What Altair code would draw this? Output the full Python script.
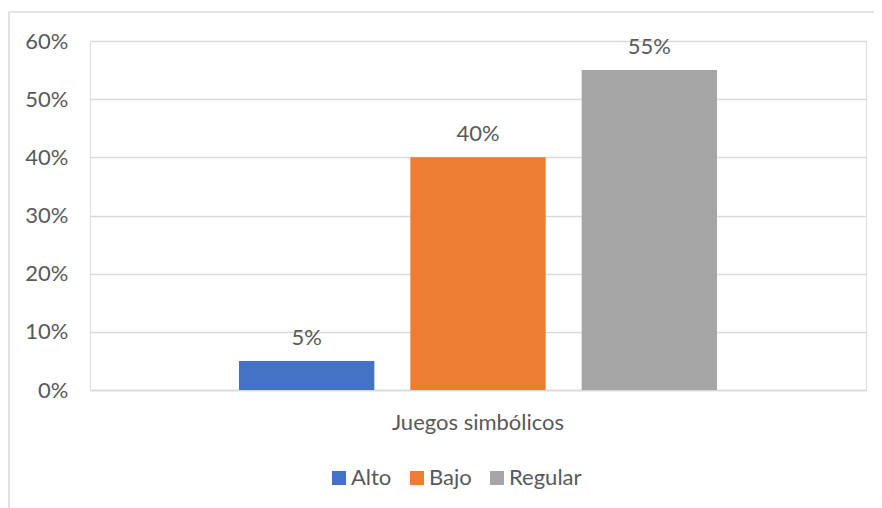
import altair as alt
import pandas as pd

categorias = ["Juegos simbólicos", "Juegos simbólicos", "Juegos simbólicos"]
niveles = ["Alto", "Bajo", "Regular"]
valores = [0.05, 0.40, 0.55]
colores = ["#4472C4", "#ED7D31", "#A5A5A5"]
ticks_y = [0, 0.1, 0.2, 0.3, 0.4, 0.5, 0.6]

df = pd.DataFrame({"categoria": categorias, "nivel": niveles, "valor": valores})

FONT = "Lato"
TXT = "#595959"
GRID = "#D9D9D9"
FS = 22

base = alt.Chart(df)

x_enc = alt.X("categoria:N", title=None,
              scale=alt.Scale(paddingInner=0, paddingOuter=0.3117),
              axis=alt.Axis(labelAngle=0, ticks=False, domain=True, domainColor=GRID,
                            domainWidth=1.5, labelPadding=22, labelFontSize=FS,
                            labelColor=TXT, labelFont=FONT))
xoff = alt.XOffset("nivel:N", sort=niveles, scale=alt.Scale(paddingInner=0.21, paddingOuter=0))

bars = base.mark_bar().encode(
    x=x_enc,
    xOffset=xoff,
    y=alt.Y("valor:Q", title=None,
            scale=alt.Scale(domain=[0, 0.6]),
            axis=alt.Axis(values=ticks_y, format=".0%", ticks=False, domain=False,
                          gridColor=GRID, gridWidth=1.5, labelPadding=22,
                          labelFontSize=FS, labelColor=TXT, labelFont=FONT)),
    color=alt.Color("nivel:N", sort=niveles,
                    scale=alt.Scale(domain=niveles, range=colores),
                    legend=alt.Legend(title=None, orient="none", direction="horizontal",
                                      legendX=238, legendY=426, symbolType="square",
                                      symbolSize=196, symbolStrokeWidth=0,
                                      labelFontSize=FS, labelColor=TXT, labelFont=FONT,
                                      columnPadding=14, labelOffset=1)),
)

labels = base.mark_text(baseline="bottom", dy=-11, fontSize=FS, color=TXT, font=FONT).encode(
    x=alt.X("categoria:N"),
    xOffset=xoff,
    y=alt.Y("valor:Q"),
    text=alt.Text("valor:Q", format=".0%"),
)

marco = pd.DataFrame({"k": [0]})
borde_izq = alt.Chart(marco).mark_rule(color=GRID, strokeWidth=1.5).encode(
    x=alt.value(-81), y=alt.value(-29), y2=alt.value(490))
borde_sup = alt.Chart(marco).mark_rule(color=GRID, strokeWidth=1.5).encode(
    x=alt.value(-81), x2=alt.value(800), y=alt.value(-29))

chart = alt.layer(borde_izq, borde_sup, bars, labels).properties(
    width=776, height=349,
    autosize=alt.AutoSizeParams(type="none"),
    padding={"left": 82, "top": 33, "right": 8, "bottom": 125},
).configure_view(stroke=None).configure(background="white")

chart.save("out.html", embed_options={"renderer": "svg", "actions": False})
